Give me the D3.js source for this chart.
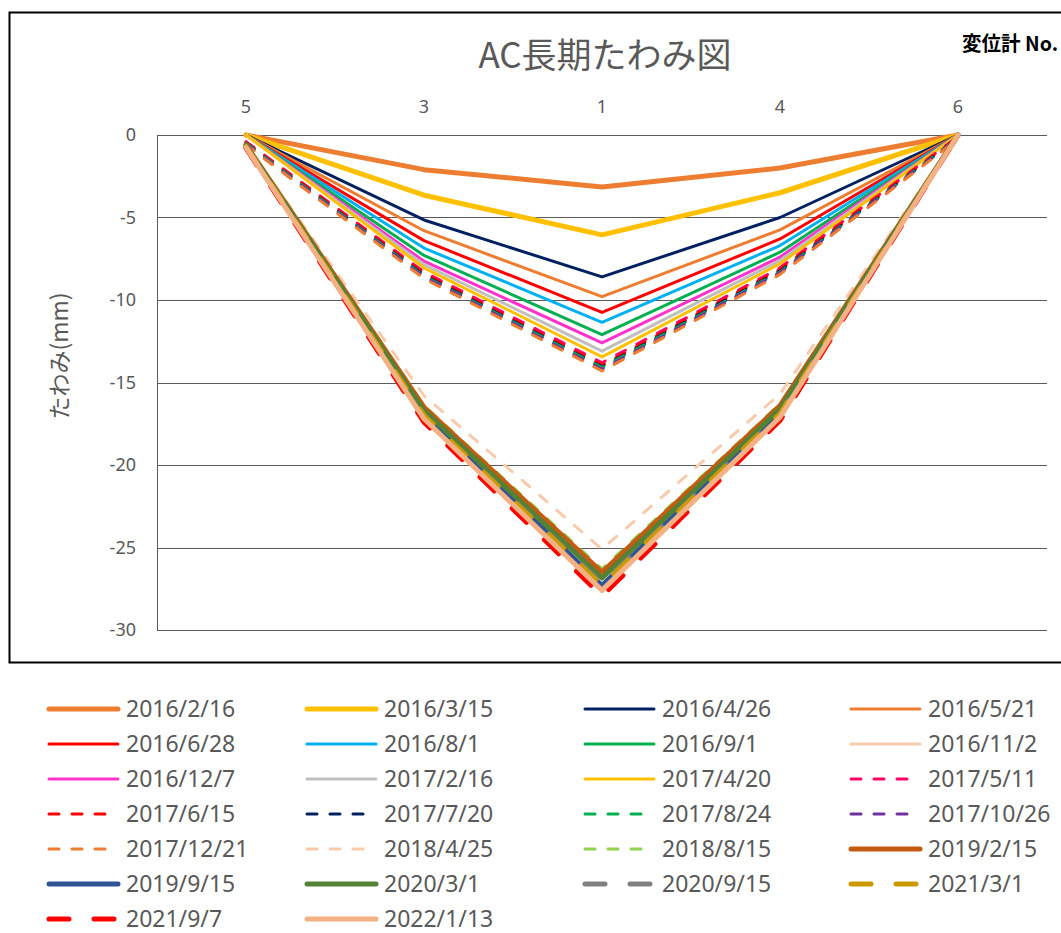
<!DOCTYPE html>
<html>
<head>
<meta charset="utf-8">
<script src="https://cdn.jsdelivr.net/npm/d3@7"></script>
<style>
  html, body { margin: 0; padding: 0; background: #fff; }
  svg { display: block; }
</style>
</head>
<body>
<svg id="chart" width="1061" height="933"></svg>
<script>
// Gauge positions along the span (left to right)
const gauges = ["5", "3", "1", "4", "6"];
const yTicks = [0, -5, -10, -15, -20, -25, -30];

// Survey dates
const dates = [
  "2016/2/16", "2016/3/15", "2016/4/26", "2016/5/21",
  "2016/6/28", "2016/8/1", "2016/9/1", "2016/11/2",
  "2016/12/7", "2017/2/16", "2017/4/20", "2017/5/11",
  "2017/6/15", "2017/7/20", "2017/8/24", "2017/10/26",
  "2017/12/21", "2018/4/25", "2018/8/15", "2019/2/15",
  "2019/9/15", "2020/3/1", "2020/9/15", "2021/3/1",
  "2021/9/7", "2022/1/13"
];

// Deflection (mm) at gauges 5, 3, 1, 4, 6 for each date
const d20160216 = [0, -2.1, -3.15, -2.0, 0];
const d20160315 = [0, -3.65, -6.05, -3.5, 0];
const d20160426 = [0, -5.15, -8.6, -5.0, 0];
const d20160521 = [0, -5.8, -9.8, -5.75, 0];
const d20160628 = [0, -6.4, -10.75, -6.3, 0];
const d20160801 = [0, -6.85, -11.35, -6.7, 0];
const d20160901 = [0, -7.3, -12.1, -7.1, 0];
const d20161102 = [-0.65, -16.7, -26.8, -16.6, 0];
const d20161207 = [0, -7.65, -12.6, -7.4, 0];
const d20170216 = [0, -7.85, -13.1, -7.6, 0];
const d20170420 = [0, -8.05, -13.45, -7.8, 0];
const d20170511 = [-0.4, -8.3, -13.8, -8.05, -0.1];
const d20170615 = [-0.45, -8.4, -13.95, -8.15, -0.15];
const d20170720 = [-0.5, -8.5, -14.05, -8.25, -0.2];
const d20170824 = [-0.5, -8.55, -14.1, -8.3, -0.2];
const d20171026 = [-0.55, -8.6, -14.2, -8.35, -0.2];
const d20171221 = [-0.6, -8.7, -14.3, -8.45, -0.25];
const d20180425 = [-0.6, -15.8, -25.1, -15.7, 0];
const d20180815 = [-0.6, -16.4, -26.3, -16.3, 0];
const d20190215 = [-0.6, -16.5, -26.5, -16.4, 0];
const d20190915 = [-0.7, -16.9, -27.3, -16.8, 0];
const d20200301 = [-0.65, -16.7, -26.85, -16.6, 0];
const d20200915 = [-0.7, -17.0, -27.2, -16.9, 0];
const d20210301 = [-0.7, -17.0, -27.3, -16.9, 0];
const d20210907 = [-0.8, -17.4, -27.95, -17.3, 0];
const d20220113 = [-0.75, -17.2, -27.6, -17.1, 0];

const values = [
  d20160216, d20160315, d20160426, d20160521, d20160628, d20160801,
  d20160901, d20161102, d20161207, d20170216, d20170420, d20170511,
  d20170615, d20170720, d20170824, d20171026, d20171221, d20180425,
  d20180815, d20190215, d20190915, d20200301, d20200915, d20210301,
  d20210907, d20220113
];

// Line styles: colour, width, dash kind
const styles = [
  ["#ED7D31", 5, "solid"], ["#FFC000", 5, "solid"], ["#002060", 3, "solid"], ["#ED7D31", 3, "solid"],
  ["#FF0000", 3, "solid"], ["#00B0F0", 3, "solid"], ["#00B050", 3, "solid"], ["#F8CBAD", 3, "solid"],
  ["#FF33CC", 3, "solid"], ["#BFBFBF", 3, "solid"], ["#FFC000", 3, "solid"], ["#FF0066", 3, "dash"],
  ["#FF0000", 3, "dash"], ["#002060", 3, "dash"], ["#00B050", 3, "dash"], ["#7030A0", 3, "dash"],
  ["#ED7D31", 3, "dash"], ["#F8CBAD", 3, "dash"], ["#92D050", 3, "dash"], ["#C55A11", 5, "solid"],
  ["#2F5597", 5, "solid"], ["#548235", 5, "solid"], ["#808080", 5, "long"], ["#CC9900", 5, "long"],
  ["#FF0000", 5, "long"], ["#F4B183", 5, "solid"]
];
const dashArray = { solid: null, dash: "10,13", long: "20,25" };

const series = dates.map((d, i) => ({
  name: d,
  values: values[i],
  color: styles[i][0],
  width: styles[i][1],
  dash: dashArray[styles[i][2]]
}));

const svg = d3.select("#chart");
const textGray = "#595959";
const latin = "'Noto Sans', 'Open Sans', sans-serif";
const cjk = "'Noto Sans CJK JP', 'Noto Sans', sans-serif";

// Outer frame
svg.append("rect")
  .attr("x", 9.5).attr("y", 12.5)
  .attr("width", 1060).attr("height", 650)
  .attr("fill", "none").attr("stroke", "#000").attr("stroke-width", 2);

const plot = { left: 157, right: 1047, top: 135, bottom: 630 };

const x = d3.scaleBand().domain(gauges).range([plot.left, plot.right]);
const cx = g => x(g) + x.bandwidth() / 2;
const y = d3.scaleLinear().domain([-30, 0]).range([plot.bottom, plot.top]);

// Horizontal gridlines
svg.append("g").selectAll("line").data(yTicks).join("line")
  .attr("x1", plot.left).attr("x2", plot.right)
  .attr("y1", d => Math.round(y(d)) + 0.5).attr("y2", d => Math.round(y(d)) + 0.5)
  .attr("stroke", "#5a5a5a").attr("stroke-width", 1);

// Vertical axis line
svg.append("line")
  .attr("x1", plot.left + 0.5).attr("x2", plot.left + 0.5)
  .attr("y1", plot.top).attr("y2", plot.bottom)
  .attr("stroke", "#5a5a5a").attr("stroke-width", 1);

// Y tick labels
svg.append("g").selectAll("text").data(yTicks).join("text")
  .attr("x", 136).attr("y", d => y(d))
  .attr("dy", "0.35em")
  .attr("text-anchor", "end")
  .attr("font-family", latin).attr("font-size", 18)
  .attr("fill", textGray)
  .text(d => d);

// Gauge labels along the top
svg.append("g").selectAll("text").data(gauges).join("text")
  .attr("x", d => cx(d)).attr("y", 107)
  .attr("dy", "0.35em")
  .attr("text-anchor", "middle")
  .attr("font-family", latin).attr("font-size", 18)
  .attr("fill", textGray)
  .text(d => d);

// Title
svg.append("text")
  .attr("x", 605).attr("y", 68)
  .attr("text-anchor", "middle")
  .attr("font-family", cjk).attr("font-size", 35)
  .attr("fill", textGray)
  .text("AC長期たわみ図");

// Axis title for gauges
svg.append("text")
  .attr("x", 1058).attr("y", 51)
  .attr("text-anchor", "end")
  .attr("font-family", cjk).attr("font-size", 20).attr("font-weight", "bold")
  .attr("fill", "#000")
  .attr("textLength", 96).attr("lengthAdjust", "spacingAndGlyphs")
  .text("変位計 No.");

// Y axis title
svg.append("text")
  .attr("transform", "translate(68,356) rotate(-90)")
  .attr("text-anchor", "middle")
  .attr("font-family", cjk).attr("font-size", 23)
  .attr("fill", textGray)
  .text("たわみ(mm)");

// Deflection lines
const line = d3.line()
  .x((d, i) => cx(gauges[i]))
  .y(d => y(d));

svg.append("g").selectAll("path").data(series).join("path")
  .attr("d", d => line(d.values))
  .attr("fill", "none")
  .attr("stroke", d => d.color)
  .attr("stroke-width", d => d.width)
  .attr("stroke-dasharray", d => d.dash)
  .attr("stroke-linejoin", "round")
  .attr("stroke-linecap", "round");

// Legend
const legCols = [49, 307, 585, 851];
const legRowY = 709, legRowStep = 35, sampleLen = 69;
const leg = svg.append("g").selectAll("g").data(series).join("g")
  .attr("transform", (d, i) => `translate(${legCols[i % 4]},${legRowY + Math.floor(i / 4) * legRowStep})`);

leg.append("line")
  .attr("x1", 0).attr("x2", sampleLen)
  .attr("y1", 0).attr("y2", 0)
  .attr("stroke", d => d.color)
  .attr("stroke-width", d => d.width)
  .attr("stroke-dasharray", d => d.dash)
  .attr("stroke-linecap", "round");

leg.append("text")
  .attr("x", sampleLen + 8).attr("y", 0)
  .attr("dy", "0.36em")
  .attr("font-family", latin).attr("font-size", 23)
  .attr("fill", textGray)
  .text(d => d.name);
</script>
</body>
</html>
